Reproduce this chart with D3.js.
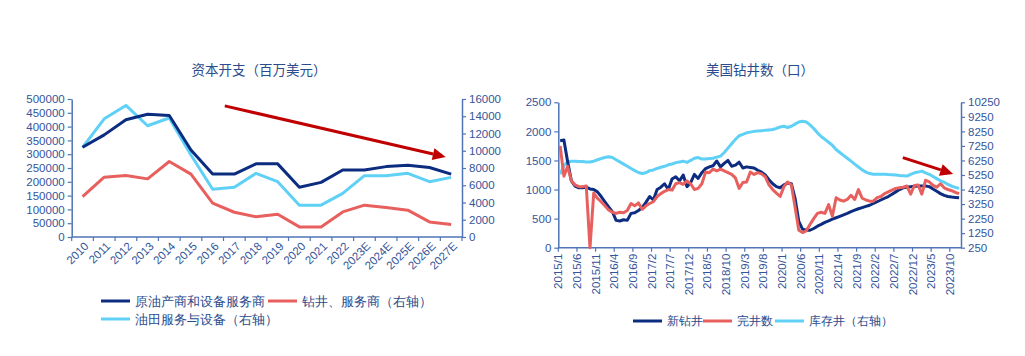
<!DOCTYPE html>
<html><head><meta charset="utf-8">
<script src="https://cdn.jsdelivr.net/npm/d3@7"></script>
<style>
body{margin:0;background:#fff;}
svg text{font-family:"Liberation Sans",Arial,sans-serif;}
.cjk{font-family:"Noto Sans CJK SC","Liberation Sans",sans-serif;}
</style></head>
<body><svg id="c" width="1025" height="356"></svg>
<script>
// ---------- Left chart data: 资本开支（百万美元） ----------
const years = ["2010","2011","2012","2013","2014","2015","2016","2017","2018","2019","2020","2021","2022","2023E","2024E","2025E","2026E","2027E"];
const producers = [325000,370000,425000,445000,440000,315000,228000,228000,265000,265000,180000,198000,243000,243000,255000,260000,252000,228000]; // left axis
const drilling  = [4680,6930,7120,6740,8750,7290,3920,2870,2350,2640,1170,1170,2910,3690,3420,3110,1750,1440]; // right axis
const oilfield  = [10400,13700,15250,12900,13800,9500,5540,5770,7380,6410,3690,3690,5050,7110,7110,7380,6410,6910]; // right axis
const leftTicksL = [0,50000,100000,150000,200000,250000,300000,350000,400000,450000,500000];
const leftTicksR = [0,2000,4000,6000,8000,10000,12000,14000,16000];

// ---------- Right chart data: 美国钻井数（口） monthly 2015/1 - 2023/12 ----------
const newWells = [1840,1850,1480,1150,1060,1030,1030,1040,1010,1000,960,880,
  790,700,620,470,460,480,470,590,600,640,690,780,
  880,820,1000,1040,1100,1000,1180,1220,1150,1250,1050,1120,
  1260,1190,1290,1360,1390,1410,1490,1390,1450,1500,1400,1420,
  1470,1370,1390,1380,1370,1330,1300,1250,1170,1100,1050,1030,
  1080,1110,1100,850,450,320,300,300,330,370,400,435,
  460,490,515,540,565,590,620,645,670,690,710,730,
  760,790,820,850,880,920,960,1000,1030,1040,1050,1055,
  1060,1060,1060,1050,1010,970,930,900,880,870,865,860];
const completed = [1750,1230,1400,1150,1080,1050,1050,1060,0,940,850,790,
  720,650,610,590,610,600,640,760,720,770,660,720,
  760,790,880,930,970,1000,990,1100,1120,1090,1150,1100,
  1000,1020,1100,1300,1290,1350,1320,1350,1320,1290,1260,1200,
  1020,1120,1130,1300,1260,1290,1270,1220,1080,1000,940,880,
  1050,1130,1080,700,300,260,290,400,500,590,610,590,
  740,540,860,820,800,830,900,830,1000,850,820,800,
  800,860,880,930,960,990,1020,1030,1040,1060,920,1070,
  1080,920,1160,1130,1070,1040,1100,1030,1000,980,950,930];
const duc = [5300,5900,6150,6200,6200,6180,6180,6150,6150,6200,6300,6380,
  6450,6500,6450,6300,6150,6000,5850,5700,5550,5420,5350,5400,
  5550,5600,5700,5780,5850,5950,6000,6100,6150,6200,6120,6250,
  6400,6450,6350,6350,6380,6400,6480,6550,6800,7100,7400,7700,
  7950,8050,8150,8200,8250,8280,8300,8320,8350,8380,8450,8550,
  8600,8520,8600,8750,8900,8950,8900,8700,8450,8150,7900,7700,
  7500,7300,7000,6800,6600,6400,6200,6000,5800,5600,5450,5350,
  5300,5300,5300,5300,5280,5270,5250,5220,5200,5180,5300,5400,
  5450,5520,5400,5300,5150,5000,4850,4750,4600,4480,4400,4330];
const monthTickLabels = ["2015/1","2015/6","2015/11","2016/4","2016/9","2017/2","2017/7","2017/12","2018/5","2018/10","2019/3","2019/8","2020/1","2020/6","2020/11","2021/4","2021/9","2022/2","2022/7","2022/12","2023/5","2023/10"];
const rightTicksL = [0,500,1000,1500,2000,2500];
const rightTicksR = [250,1250,2250,3250,4250,5250,6250,7250,8250,9250,10250];

const months = [];
for (let y = 2015; y <= 2023; y++) for (let m = 1; m <= 12; m++) months.push(y + "/" + m);

// ---------- styles ----------
const NAVY = "#0c2c80", RED = "#e8605e", LBLUE = "#5fd0f6", ARROW = "#c00000";
const AXIS = "#4f74b8", LABEL = "#33559a", TITLE = "#2a4b8c";

const svg = d3.select("#c");

function styleAxis(g){
  g.select(".domain").attr("stroke", AXIS).attr("stroke-width", 1.5);
  g.selectAll(".tick line").attr("stroke", AXIS).attr("stroke-width", 1.2);
  g.selectAll(".tick text").attr("fill", LABEL).style("font-size","11.5px");
}
function arrow(g, x1, y1, x2, y2){
  const ang = Math.atan2(y2-y1, x2-x1), L = 13, W = 6;
  const bx = x2 - L*Math.cos(ang), by = y2 - L*Math.sin(ang);
  g.append("line").attr("x1",x1).attr("y1",y1).attr("x2",bx).attr("y2",by)
    .attr("stroke",ARROW).attr("stroke-width",3);
  const px = -Math.sin(ang)*W, py = Math.cos(ang)*W;
  g.append("path").attr("d",`M${x2},${y2}L${bx+px},${by+py}L${bx-px},${by-py}Z`).attr("fill",ARROW);
}

// ================= LEFT CHART =================
{
  const x0 = 71.7, x1 = 462, yTop = 99, yBot = 237;
  const x = d3.scaleBand().domain(years).range([x0, x1]);
  const yL = d3.scaleLinear().domain([0, 500000]).range([yBot, yTop]);
  const yR = d3.scaleLinear().domain([0, 16000]).range([yBot, yTop]);
  const cx = d => x(d) + x.bandwidth()/2;

  svg.append("text").attr("class","cjk").attr("x",259).attr("y",75).attr("text-anchor","middle")
    .attr("fill",TITLE).style("font-size","13.5px").text("资本开支（百万美元）");

  const gl = svg.append("g").attr("transform",`translate(${x0},0)`)
    .call(d3.axisLeft(yL).tickValues(leftTicksL).tickFormat(d3.format("d")).tickSize(4).tickPadding(3).tickSizeOuter(0));
  styleAxis(gl);
  const gr = svg.append("g").attr("transform",`translate(${x1},0)`)
    .call(d3.axisRight(yR).tickValues(leftTicksR).tickFormat(d3.format("d")).tickSize(4).tickPadding(3).tickSizeOuter(0));
  styleAxis(gr);

  // x axis
  const gx = svg.append("g");
  gx.append("line").attr("x1",x0).attr("x2",x1).attr("y1",yBot).attr("y2",yBot).attr("stroke",AXIS).attr("stroke-width",1.5);
  const bounds = years.map(d => x(d)).concat([x1]);
  gx.selectAll("line.t").data(bounds).join("line").attr("class","t")
    .attr("x1",d=>d).attr("x2",d=>d).attr("y1",yBot).attr("y2",yBot+4).attr("stroke",AXIS).attr("stroke-width",1.2);
  gx.selectAll("text").data(years).join("text")
    .attr("transform", d => `translate(${cx(d)+4},${yBot+7}) rotate(-45)`)
    .attr("text-anchor","end").attr("dy","0.35em").attr("fill",LABEL).style("font-size","11.5px").text(d=>d);

  const lineL = d3.line().x((d,i)=>cx(years[i])).y(d=>yL(d));
  const lineR = d3.line().x((d,i)=>cx(years[i])).y(d=>yR(d));
  svg.append("path").datum(oilfield).attr("d",lineR).attr("fill","none").attr("stroke",LBLUE).attr("stroke-width",3).attr("stroke-linejoin","round");
  svg.append("path").datum(drilling).attr("d",lineR).attr("fill","none").attr("stroke",RED).attr("stroke-width",3).attr("stroke-linejoin","round");
  svg.append("path").datum(producers).attr("d",lineL).attr("fill","none").attr("stroke",NAVY).attr("stroke-width",3).attr("stroke-linejoin","round");

  // trend arrow (in data units: band index, left-axis value)
  const bi = k => x0 + k*x.bandwidth();
  arrow(svg, bi(7.06), yL(475000), bi(17.25), yL(290000));

  // legend
  const lg = svg.append("g").attr("class","cjk");
  const items = [[101,301,NAVY,"原油产商和设备服务商"],[268,301,RED,"钻井、服务商（右轴）"],[101,319,LBLUE,"油田服务与设备（右轴）"]];
  items.forEach(([lx,ly,c,t])=>{
    lg.append("line").attr("x1",lx).attr("x2",lx+29).attr("y1",ly).attr("y2",ly).attr("stroke",c).attr("stroke-width",3);
    lg.append("text").attr("x",lx+34).attr("y",ly).attr("dy","0.36em").attr("fill",TITLE).style("font-size","12.5px").text(t);
  });
}

// ================= RIGHT CHART =================
{
  const x0 = 558.3, x1 = 961, yTop = 102.3, yBot = 247.7;
  const x = d3.scaleBand().domain(months).range([x0, x1]);
  const yL = d3.scaleLinear().domain([0, 2500]).range([yBot, yTop]);
  const yR = d3.scaleLinear().domain([250, 10250]).range([yBot, yTop]);
  const cx = i => x(months[i]) + x.bandwidth()/2;

  svg.append("text").attr("class","cjk").attr("x",760).attr("y",75).attr("text-anchor","middle")
    .attr("fill",TITLE).style("font-size","13.5px").text("美国钻井数（口）");

  const gl = svg.append("g").attr("transform",`translate(${x0},0)`)
    .call(d3.axisLeft(yL).tickValues(rightTicksL).tickFormat(d3.format("d")).tickSize(4).tickPadding(3).tickSizeOuter(0));
  styleAxis(gl);
  const gr = svg.append("g").attr("transform",`translate(${x1},0)`)
    .call(d3.axisRight(yR).tickValues(rightTicksR).tickFormat(d3.format("d")).tickSize(4).tickPadding(3).tickSizeOuter(0));
  styleAxis(gr);

  const gx = svg.append("g");
  gx.append("line").attr("x1",x0).attr("x2",x1).attr("y1",yBot).attr("y2",yBot).attr("stroke",AXIS).attr("stroke-width",1.5);
  gx.selectAll("line.t").data(monthTickLabels).join("line").attr("class","t")
    .attr("x1",d=>x(d)).attr("x2",d=>x(d)).attr("y1",yBot).attr("y2",yBot+4).attr("stroke",AXIS).attr("stroke-width",1.2);
  gx.selectAll("text").data(monthTickLabels).join("text")
    .attr("transform", d => `translate(${x(d)},${yBot+6}) rotate(-90)`)
    .attr("text-anchor","end").attr("dy","0.35em").attr("fill",LABEL).style("font-size","11.5px").text(d=>d);

  const lL = d3.line().x((d,i)=>cx(i)).y(d=>yL(d));
  const lR = d3.line().x((d,i)=>cx(i)).y(d=>yR(d));
  svg.append("path").datum(duc).attr("d",lR).attr("fill","none").attr("stroke",LBLUE).attr("stroke-width",3).attr("stroke-linejoin","round");
  svg.append("path").datum(newWells).attr("d",lL).attr("fill","none").attr("stroke",NAVY).attr("stroke-width",3).attr("stroke-linejoin","round");
  svg.append("path").datum(completed).attr("d",lL).attr("fill","none").attr("stroke",RED).attr("stroke-width",3).attr("stroke-linejoin","round");

  const mi = k => x0 + k*x.bandwidth();
  arrow(svg, mi(92.4), yR(6450), mi(105.9), yR(5320));

  const lg = svg.append("g").attr("class","cjk");
  const items = [[633,321,NAVY,"新钻井"],[703,321,RED,"完井数"],[775,321,LBLUE,"库存井（右轴）"]];
  items.forEach(([lx,ly,c,t])=>{
    lg.append("line").attr("x1",lx).attr("x2",lx+29).attr("y1",ly).attr("y2",ly).attr("stroke",c).attr("stroke-width",3);
    lg.append("text").attr("x",lx+34).attr("y",ly).attr("dy","0.36em").attr("fill",TITLE).style("font-size","11.5px").text(t);
  });
}
</script></body></html>
